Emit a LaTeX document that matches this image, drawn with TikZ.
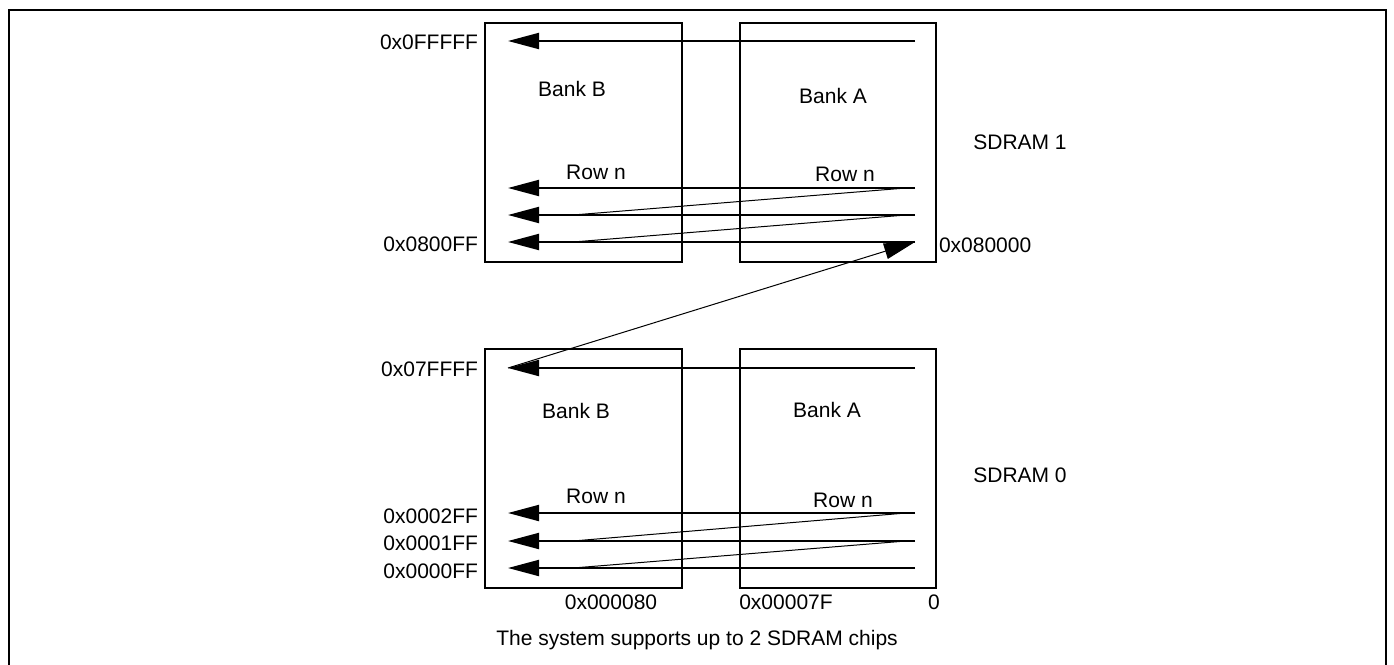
\documentclass[tikz,border=0pt]{standalone}
\usepackage{fontspec}
\setmainfont{Liberation Sans}
\usetikzlibrary{arrows.meta}
\begin{document}
\begin{tikzpicture}[x=1pt,y=-1pt,
  lbl/.style={font=\fontsize{21}{25}\selectfont, inner sep=0pt, outer sep=0pt},
  bank/.style={draw, line width=2pt, inner sep=0pt, outer sep=0pt, anchor=north west, minimum height=239pt},
  addr/.style={-{Triangle[length=31pt,width=16pt]}, line width=2pt},
  zig/.style={line width=1pt}]
\useasboundingbox (0,0) rectangle (1394,664);
% frame
\draw[line width=2pt] (9,670) -- (9,10) -- (1386,10) -- (1386,670);

% ---------- SDRAM 1 ----------
\node[bank, minimum width=197pt] (B1) at (485,23) {};
\node[bank, minimum width=196pt] (A1) at (740,23) {};
\coordinate (t1s) at (915,41);  \coordinate (t1e) at (508,41);
\coordinate (r1s) at (915,188); \coordinate (r1e) at (508,188);
\coordinate (r2s) at (915,215); \coordinate (r2e) at (508,215);
\coordinate (r3s) at (915,242); \coordinate (r3e) at (508,242);
\coordinate (z1a) at (906,188); \coordinate (z1b) at (573,215);
\coordinate (z2a) at (906,215); \coordinate (z2b) at (573,242);
\draw[addr] (t1s) -- (t1e);
\draw[addr] (r1s) -- (r1e);
\draw[addr] (r2s) -- (r2e);
\draw[addr] (r3s) -- (r3e);
\draw[zig] (z1a) -- (z1b);
\draw[zig] (z2a) -- (z2b);
\node[lbl, anchor=east] (l1) at (478,42) {0x0FFFFF};
\node[lbl] (bb1) at (572,89) {Bank B};
\node[lbl] (ba1) at (833,96) {Bank A};
\node[lbl] (sd1) at (1020,142) {SDRAM 1};
\node[lbl] (rb1) at (596,172) {Row n};
\node[lbl] (ra1) at (845,174) {Row n};
\node[lbl, anchor=east] (l2) at (478,244) {0x0800FF};
\node[lbl, anchor=west] (l3) at (939,245) {0x080000};

% ---------- SDRAM 0 ----------
\node[bank, minimum width=197pt] (B0) at (485,349) {};
\node[bank, minimum width=196pt] (A0) at (740,349) {};
\coordinate (t0s) at (915,368); \coordinate (t0e) at (508,368);
\coordinate (q1s) at (915,513); \coordinate (q1e) at (508,513);
\coordinate (q2s) at (915,541); \coordinate (q2e) at (508,541);
\coordinate (q3s) at (915,568); \coordinate (q3e) at (508,568);
\coordinate (y1a) at (906,513); \coordinate (y1b) at (573,541);
\coordinate (y2a) at (906,541); \coordinate (y2b) at (573,568);
\draw[addr] (t0s) -- (t0e);
\draw[addr] (q1s) -- (q1e);
\draw[addr] (q2s) -- (q2e);
\draw[addr] (q3s) -- (q3e);
\draw[zig] (y1a) -- (y1b);
\draw[zig] (y2a) -- (y2b);
\node[lbl, anchor=east] (m1) at (478,369) {0x07FFFF};
\node[lbl] (bb0) at (576,411) {Bank B};
\node[lbl] (ba0) at (827,410) {Bank A};
\node[lbl] (sd0) at (1020,475) {SDRAM 0};
\node[lbl] (rb0) at (596,496) {Row n};
\node[lbl] (ra0) at (843,500) {Row n};
\node[lbl, anchor=east] (m2) at (478,516) {0x0002FF};
\node[lbl, anchor=east] (m3) at (478,543) {0x0001FF};
\node[lbl, anchor=east] (m4) at (478,571) {0x0000FF};
\node[lbl] (c1) at (611,602) {0x000080};
\node[lbl] (c2) at (786,602) {0x00007F};
\node[lbl] (c3) at (934,602) {0};

% link between chips
\draw[addr, line width=1pt] (t0e) -- (r3s);

\node[lbl] (cap) at (697,640) {The system supports up to 2 SDRAM chips};
\end{tikzpicture}
\end{document}
